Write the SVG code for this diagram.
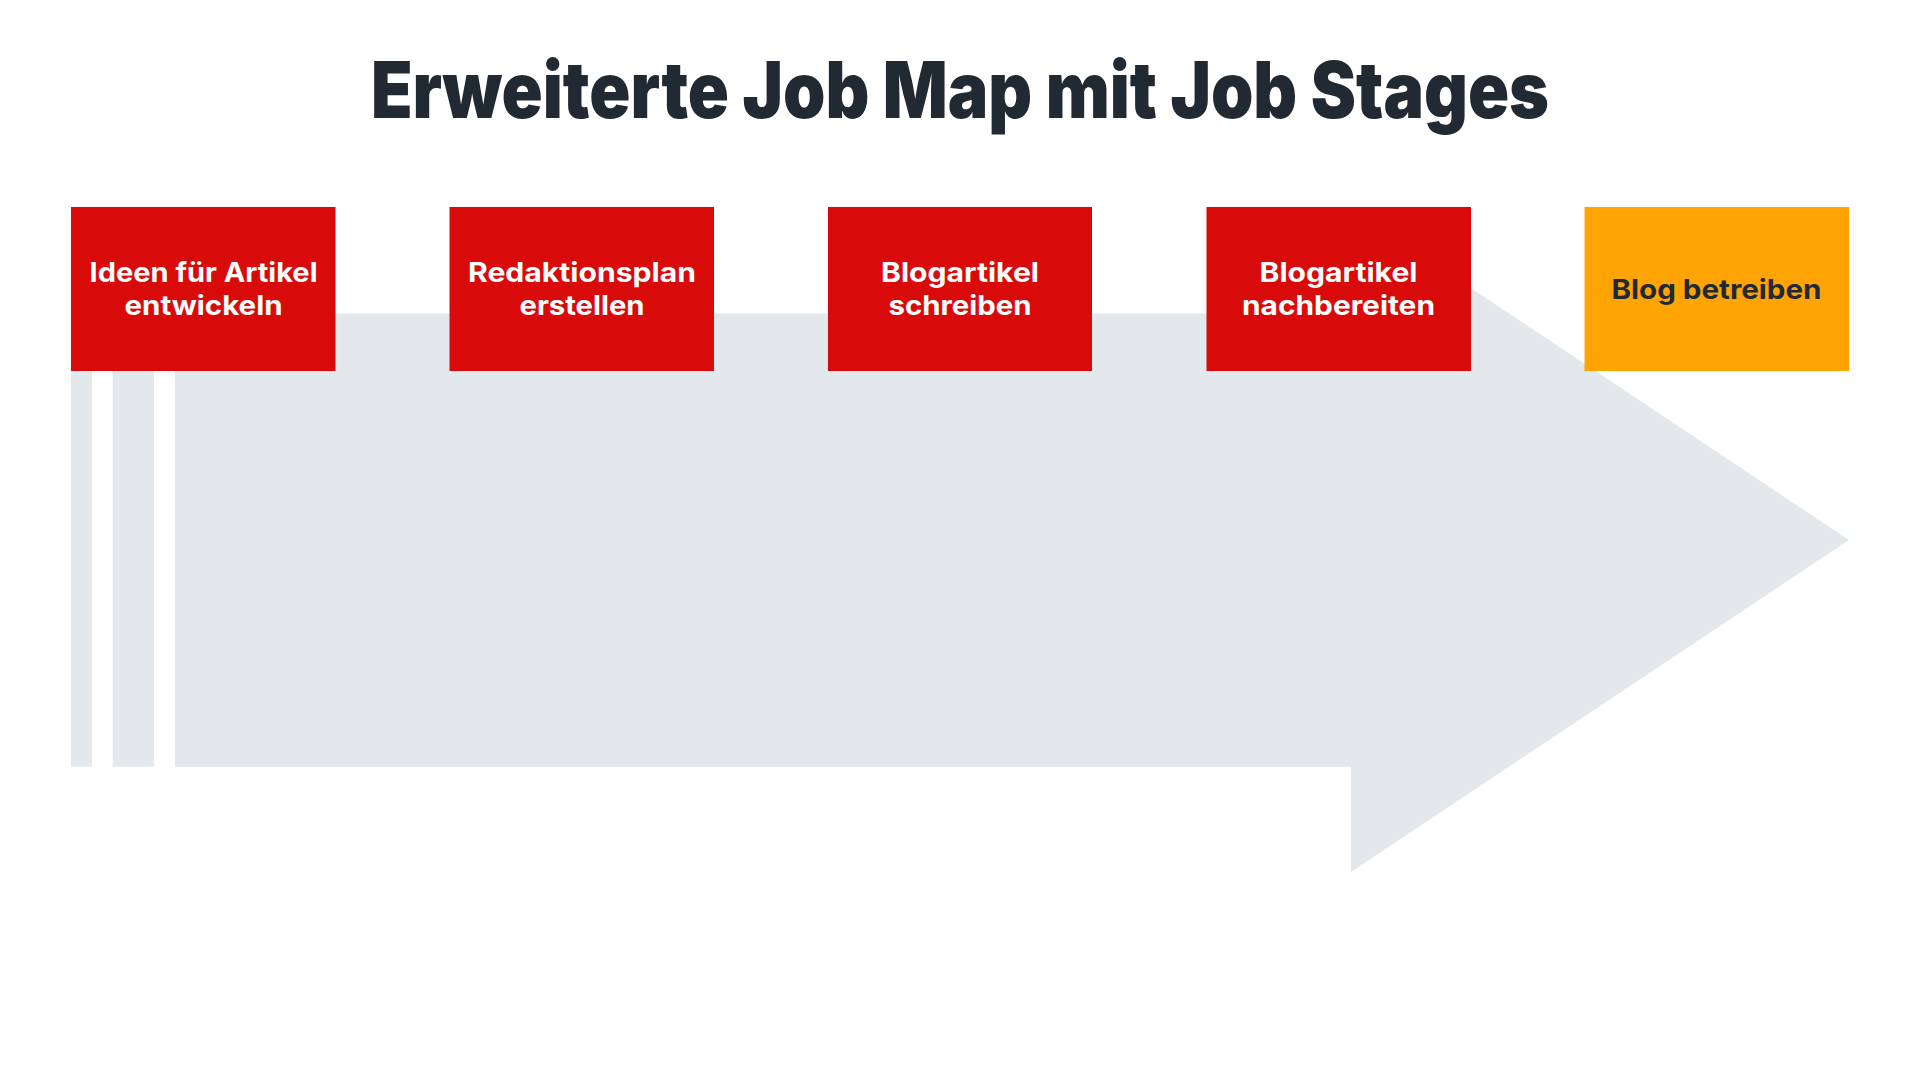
<svg xmlns="http://www.w3.org/2000/svg" width="1920" height="1080" viewBox="0 0 1920 1080">
  <style>
    .title { font-family: Inter, "Open Sans", "Liberation Sans", sans-serif; font-weight: 900; font-size: 78px; fill: #212a32; }
    .lbl { font-family: Inter, "Open Sans", "Liberation Sans", sans-serif; font-weight: 700; font-size: 27px; fill: #ffffff; text-anchor: middle; }
    .lbl-dark { fill: #212a32; }
    .stage { fill: #d90a0a; }
    .goal { fill: #ffa402; }
    .arrow { fill: #e3e8ec; }
  </style>
  <rect width="1920" height="1080" fill="#ffffff"/>
  <text class="title" x="371" y="117.5" textLength="1178" lengthAdjust="spacingAndGlyphs">Erweiterte Job Map mit Job Stages</text>
  <g id="arrow">
    <rect class="arrow" x="71" y="313.5" width="21" height="453.2"/>
    <rect class="arrow" x="112.7" y="313.5" width="41.3" height="453.2"/>
    <polygon class="arrow" points="175,313.5 1351,313.5 1351,208 1849,540 1351,872 1351,766.7 175,766.7"/>
  </g>
  <g id="node1">
    <rect class="stage" x="71" y="207" width="264.5" height="164"/>
    <text class="lbl" x="203.5" y="282" textLength="228" lengthAdjust="spacingAndGlyphs">Ideen für Artikel</text>
    <text class="lbl" x="203.5" y="315" textLength="158" lengthAdjust="spacingAndGlyphs">entwickeln</text>
  </g>
  <g id="node2">
    <rect class="stage" x="449.5" y="207" width="264.5" height="164"/>
    <text class="lbl" x="582" y="282" textLength="228" lengthAdjust="spacingAndGlyphs">Redaktionsplan</text>
    <text class="lbl" x="582" y="315" textLength="125" lengthAdjust="spacingAndGlyphs">erstellen</text>
  </g>
  <g id="node3">
    <rect class="stage" x="828" y="207" width="264" height="164"/>
    <text class="lbl" x="960" y="282" textLength="158" lengthAdjust="spacingAndGlyphs">Blogartikel</text>
    <text class="lbl" x="960" y="315" textLength="143" lengthAdjust="spacingAndGlyphs">schreiben</text>
  </g>
  <g id="node4">
    <rect class="stage" x="1206.5" y="207" width="264.5" height="164"/>
    <text class="lbl" x="1338.5" y="282" textLength="158" lengthAdjust="spacingAndGlyphs">Blogartikel</text>
    <text class="lbl" x="1338.5" y="315" textLength="193" lengthAdjust="spacingAndGlyphs">nachbereiten</text>
  </g>
  <g id="node5">
    <rect class="goal" x="1584.5" y="207" width="264.5" height="164"/>
    <text class="lbl lbl-dark" x="1716.5" y="298.5" textLength="210" lengthAdjust="spacingAndGlyphs">Blog betreiben</text>
  </g>
</svg>
